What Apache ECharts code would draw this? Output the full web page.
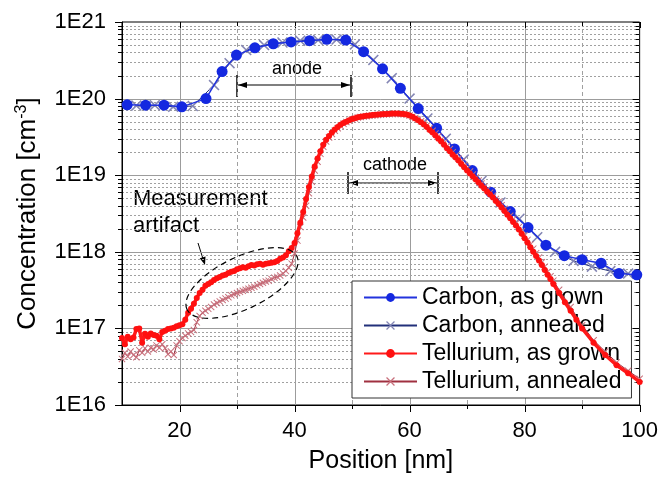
<!DOCTYPE html>
<html>
<head>
<meta charset="utf-8">
<script src="https://cdn.jsdelivr.net/npm/echarts@6/dist/echarts.min.js"></script>
<style>
  html, body { margin: 0; padding: 0; background: #fff; }
  #chart { width: 661px; height: 479px; }
</style>
</head>
<body>
<div id="chart"></div>
<script>
// position [nm], concentration [cm^-3]
const carbonGrown = [
  [10.9, 8.3e19], [14.1, 8.2e19], [17.3, 8.2e19], [20.4, 7.8e19], [24.6, 1.0e20],
  [27.4, 2.25e20], [29.9, 3.7e20], [33.1, 4.6e20], [36.3, 5.2e20], [39.4, 5.5e20],
  [42.6, 5.7e20], [45.6, 5.95e20], [48.9, 5.8e20], [52.0, 4.1e20], [55.3, 2.45e20],
  [58.4, 1.36e20], [61.5, 7.4e19], [64.7, 4.1e19], [67.8, 2.2e19], [70.9, 1.15e19],
  [74.1, 6.0e18], [77.5, 3.35e18], [80.6, 2.07e18], [83.7, 1.22e18], [86.9, 8.9e17],
  [90.0, 7.9e17], [93.3, 7.1e17], [96.4, 5.2e17], [99.5, 5.0e17]
];

const carbonAnnealed = [
  [12.5, 8.1e19], [15.7, 8.2e19], [18.9, 7.8e19], [22.3, 8.0e19], [26.0, 1.5e20],
  [28.7, 2.9e20], [31.6, 4.3e20], [34.7, 5.0e20], [37.9, 5.4e20], [41.0, 5.7e20],
  [44.1, 5.8e20], [47.3, 5.9e20], [50.5, 5.1e20], [53.7, 3.2e20], [56.9, 1.85e20],
  [60.0, 1.0e20], [63.1, 5.5e19], [66.3, 3.0e19], [69.4, 1.6e19], [72.5, 8.4e18],
  [75.8, 4.4e18], [79.1, 2.7e18], [82.2, 1.55e18], [85.3, 1.0e18], [88.5, 7.6e17],
  [91.7, 6.4e17], [94.9, 5.6e17], [98.0, 5.2e17]
];

const telluriumGrown = [
  [10.0, 7.5e16], [10.5, 6.2e16], [11.0, 7.8e16], [11.5, 7.2e16], [12.0, 7.6e16],
  [12.5, 9.8e16], [13.0, 1.0e17], [13.5, 6.5e16], [14.0, 8.5e16], [14.5, 7.8e16],
  [15.0, 8.6e16], [15.5, 8.2e16], [16.0, 8.0e16], [16.5, 7.2e16], [17.0, 9.0e16],
  [17.5, 9.3e16], [18.0, 9.8e16], [18.5, 1.0e17], [19.0, 1.02e17], [19.5, 1.07e17],
  [20.0, 1.1e17], [20.5, 1.13e17], [21.0, 1.3e17], [21.5, 1.6e17], [22.0, 1.8e17],
  [22.5, 2.1e17], [23.0, 2.5e17], [23.5, 2.9e17], [24.0, 3.2e17], [24.5, 3.6e17],
  [25.0, 3.8e17], [25.5, 4.0e17], [26.0, 4.3e17], [26.5, 4.5e17], [27.0, 4.7e17],
  [27.5, 4.9e17], [28.0, 5.0e17], [28.5, 5.3e17], [29.0, 5.5e17], [29.5, 5.6e17],
  [30.0, 5.9e17], [30.5, 6.1e17], [31.0, 6.3e17], [31.5, 6.2e17], [32.0, 6.5e17],
  [32.5, 6.7e17], [33.0, 6.6e17], [33.5, 6.9e17], [34.0, 7.0e17], [34.5, 6.8e17],
  [35.0, 7.0e17], [35.5, 7.1e17], [36.0, 7.2e17], [36.5, 7.3e17], [37.0, 7.6e17],
  [37.5, 8.1e17], [38.0, 8.4e17], [38.5, 9.0e17], [39.0, 1.02e18], [39.5, 1.12e18],
  [40.0, 1.3e18], [40.5, 1.75e18], [41.0, 2.4e18], [41.5, 3.3e18], [42.0, 4.9e18],
  [42.5, 7.0e18], [43.0, 9.6e18], [43.5, 1.3e19], [44.0, 1.65e19], [44.5, 2.05e19],
  [45.0, 2.5e19], [45.5, 2.9e19], [46.0, 3.25e19], [46.5, 3.6e19], [47.0, 3.95e19],
  [47.5, 4.25e19], [48.0, 4.55e19], [48.5, 4.8e19], [49.0, 5.0e19], [49.5, 5.2e19],
  [50.0, 5.4e19], [50.5, 5.55e19], [51.0, 5.7e19], [51.5, 5.8e19], [52.0, 5.9e19],
  [52.5, 5.95e19], [53.0, 6.0e19], [53.5, 6.1e19], [54.0, 6.15e19], [54.5, 6.2e19],
  [55.0, 6.25e19], [55.5, 6.3e19], [56.0, 6.3e19], [56.5, 6.35e19], [57.0, 6.4e19],
  [57.5, 6.4e19], [58.0, 6.4e19], [58.5, 6.35e19], [59.0, 6.3e19], [59.5, 6.2e19],
  [60.0, 6.0e19], [60.5, 5.8e19], [61.0, 5.5e19], [61.5, 5.2e19], [62.0, 4.9e19],
  [62.5, 4.6e19], [63.0, 4.25e19], [63.5, 3.9e19], [64.0, 3.6e19], [64.5, 3.3e19],
  [65.0, 3.0e19], [65.5, 2.75e19], [66.0, 2.5e19], [66.5, 2.25e19], [67.0, 2.05e19],
  [67.5, 1.85e19], [68.0, 1.7e19], [68.5, 1.55e19], [69.0, 1.4e19], [69.5, 1.27e19],
  [70.0, 1.15e19], [70.5, 1.05e19], [71.0, 9.6e18], [71.5, 8.8e18], [72.0, 8.0e18],
  [72.5, 7.3e18], [73.0, 6.7e18], [73.5, 6.1e18], [74.0, 5.6e18], [74.5, 5.1e18],
  [75.0, 4.6e18], [75.5, 4.2e18], [76.0, 3.8e18], [76.5, 3.4e18], [77.0, 3.05e18],
  [77.5, 2.75e18], [78.0, 2.45e18], [78.5, 2.2e18], [79.0, 1.95e18], [79.5, 1.72e18],
  [80.0, 1.5e18], [80.5, 1.32e18], [81.0, 1.15e18], [81.5, 1.0e18], [82.0, 8.8e17],
  [82.5, 7.7e17], [83.0, 6.7e17], [83.5, 5.8e17], [84.0, 5.0e17], [84.5, 4.4e17],
  [85.0, 3.8e17], [86.0, 2.9e17], [87.0, 2.2e17], [88.0, 1.7e17], [89.0, 1.3e17],
  [90.0, 1.0e17], [92.0, 6.5e16], [94.0, 4.5e16], [96.0, 3.3e16], [98.0, 2.6e16],
  [100.0, 2.0e16]
];

const telluriumAnnealed = [
  [10.0, 4.0e16], [10.5, 4.8e16], [11.0, 4.3e16], [11.5, 5.0e16], [12.0, 4.5e16],
  [12.5, 4.2e16], [13.0, 5.2e16], [13.5, 4.8e16], [14.0, 5.5e16], [14.5, 5.0e16],
  [15.0, 5.6e16], [15.5, 5.3e16], [16.0, 6.0e16], [16.5, 5.6e16], [17.0, 6.2e16],
  [17.5, 5.5e16], [18.0, 4.6e16], [18.5, 5.0e16], [19.0, 4.5e16], [19.5, 6.0e16],
  [20.0, 6.8e16], [20.5, 7.5e16], [21.0, 8.0e16], [21.5, 8.6e16], [22.0, 9.0e16],
  [22.5, 9.5e16], [23.0, 1.2e17], [23.5, 1.45e17], [24.0, 1.6e17], [24.5, 1.7e17],
  [25.0, 1.8e17], [25.5, 1.9e17], [26.0, 2.05e17], [26.5, 2.15e17], [27.0, 2.25e17],
  [27.5, 2.35e17], [28.0, 2.45e17], [28.5, 2.55e17], [29.0, 2.7e17], [29.5, 2.8e17],
  [30.0, 2.9e17], [30.5, 3.0e17], [31.0, 3.1e17], [31.5, 3.2e17], [32.0, 3.3e17],
  [32.5, 3.4e17], [33.0, 3.5e17], [33.5, 3.65e17], [34.0, 3.8e17], [34.5, 3.95e17],
  [35.0, 4.1e17], [35.5, 4.2e17], [36.0, 4.4e17], [36.5, 4.6e17], [37.0, 4.7e17],
  [37.5, 4.9e17], [38.0, 5.2e17], [38.5, 5.6e17], [39.0, 6.2e17], [39.5, 7.0e17],
  [40.0, 9.5e17], [40.5, 1.4e18], [41.0, 2.1e18], [41.5, 2.8e18], [42.0, 4.0e18],
  [42.5, 5.8e18], [43.0, 8.2e18], [43.5, 1.15e19], [44.0, 1.5e19], [44.5, 1.9e19],
  [45.0, 2.35e19], [45.5, 2.75e19], [46.0, 3.1e19], [46.5, 3.45e19], [47.0, 3.8e19],
  [47.5, 4.1e19], [48.0, 4.4e19], [48.5, 4.7e19], [49.0, 4.95e19], [49.5, 5.15e19],
  [50.0, 5.35e19], [50.5, 5.5e19], [51.0, 5.65e19], [51.5, 5.75e19], [52.0, 5.85e19],
  [52.5, 5.9e19], [53.0, 5.95e19], [53.5, 6.0e19], [54.0, 6.05e19], [54.5, 6.1e19],
  [55.0, 6.15e19], [55.5, 6.2e19], [56.0, 6.25e19], [56.5, 6.3e19], [57.0, 6.3e19],
  [57.5, 6.3e19], [58.0, 6.3e19], [58.5, 6.3e19], [59.0, 6.25e19], [59.5, 6.15e19],
  [60.0, 6.0e19], [60.5, 5.85e19], [61.0, 5.6e19], [61.5, 5.35e19], [62.0, 5.05e19],
  [62.5, 4.75e19], [63.0, 4.45e19], [63.5, 4.1e19], [64.0, 3.8e19], [64.5, 3.5e19],
  [65.0, 3.2e19], [65.5, 2.9e19], [66.0, 2.65e19], [66.5, 2.4e19], [67.0, 2.2e19],
  [67.5, 2.0e19], [68.0, 1.8e19], [68.5, 1.65e19], [69.0, 1.5e19], [69.5, 1.36e19],
  [70.0, 1.23e19], [70.5, 1.12e19], [71.0, 1.02e19], [71.5, 9.3e18], [72.0, 8.5e18],
  [72.5, 7.8e18], [73.0, 7.1e18], [73.5, 6.5e18], [74.0, 5.9e18], [74.5, 5.4e18],
  [75.0, 4.9e18], [75.5, 4.5e18], [76.0, 4.05e18], [76.5, 3.65e18], [77.0, 3.3e18],
  [77.5, 2.95e18], [78.0, 2.65e18], [78.5, 2.35e18], [79.0, 2.1e18], [79.5, 1.85e18],
  [80.0, 1.63e18], [80.5, 1.43e18], [81.0, 1.25e18], [81.5, 1.1e18], [82.0, 9.6e17],
  [82.5, 8.4e17], [83.0, 7.3e17], [83.5, 6.4e17], [84.0, 5.5e17], [84.5, 4.8e17],
  [85.0, 4.2e17], [86.0, 3.2e17], [88.0, 1.9e17], [90.0, 1.1e17], [92.0, 7.0e16],
  [94.0, 5.0e16], [96.0, 3.6e16], [98.0, 2.8e16], [100.0, 2.2e16]
];

const seriesNames = ['Carbon, as grown', 'Carbon, annealed', 'Tellurium, as grown', 'Tellurium, annealed'];

// grid / tick positions
const xMajorTicks = [20, 40, 60, 80, 100];
const xMinorTicks = [30, 50, 70, 90];
const yDecades = [1e16, 1e17, 1e18, 1e19, 1e20, 1e21];
const yMinorSteps = [2, 3, 4, 5, 6, 7, 8, 9];
const yMinorTicks = yDecades.slice(0, -1).flatMap(d => yMinorSteps.map(m => m * d));

const FONT = '"Liberation Sans", Arial, sans-serif';
const crossPath = 'path://M0,1L1,0L5,4L9,0L10,1L6,5L10,9L9,10L5,6L1,10L0,9L4,5Z';

function renderFrame(params, api) {
  const [x0, yb] = api.coord([10, 1e16]);
  const [x1, yt] = api.coord([100, 1e21]);
  const kids = [];
  const px = v => Math.round(v) + 0.5;
  const seg = (ax, ay, bx, by, style) =>
    kids.push({ type: 'line', shape: { x1: ax, y1: ay, x2: bx, y2: by }, style });
  const solid = { stroke: '#9c9c9c', lineWidth: 1 };
  const dashed = { stroke: '#a0a0a0', lineWidth: 1, lineDash: [4, 3] };
  const dotted = { stroke: '#a0a0a0', lineWidth: 1, lineDash: [2, 2] };
  const ink = { stroke: '#000', lineWidth: 1 };

  xMinorTicks.forEach(v => {
    const x = px(api.coord([v, 1e16])[0]);
    seg(x, yt, x, yb, dashed);
    seg(x, yb, x, yb + 4, ink);
    seg(x, yt, x, yt + 4, ink);
  });
  xMajorTicks.forEach(v => {
    const x = px(api.coord([v, 1e16])[0]);
    if (v < 100) seg(x, yt, x, yb, solid);
    seg(x, yb, x, yb + 7, ink);
    seg(x, yt, x, yt + 6, ink);
  });
  yMinorTicks.forEach(v => {
    const y = px(api.coord([10, v])[1]);
    seg(x0, y, x1, y, dotted);
    seg(x0 - 4, y, x0, y, ink);
    seg(x1 - 4, y, x1, y, ink);
  });
  yDecades.forEach(v => {
    const y = px(api.coord([10, v])[1]);
    if (v > 1e16 && v < 1e21) seg(x0, y, x1, y, solid);
    seg(x0 - 7, y, x0, y, ink);
    seg(x1 - 7, y, x1, y, ink);
  });
  return { type: 'group', children: kids };
}

const chart = echarts.init(document.getElementById('chart'));

chart.setOption({
  animation: false,
  backgroundColor: '#fff',
  textStyle: { fontFamily: FONT },
  grid: {
    left: 122, right: 21, top: 22, bottom: 72,
    show: true, borderColor: '#000', borderWidth: 1
  },
  legend: {
    data: seriesNames,
    orient: 'vertical',
    left: 352, top: 281,
    padding: [5, 10, 5, 11],
    itemWidth: 53, itemHeight: 11,
    itemGap: 5,
    backgroundColor: '#fff',
    borderColor: '#333', borderWidth: 1, borderRadius: 0,
    selectedMode: false,
    textStyle: { fontFamily: FONT, fontSize: 23, color: '#000', lineHeight: 23 }
  },
  xAxis: {
    type: 'value', min: 10, max: 100, interval: 10,
    name: 'Position [nm]', nameLocation: 'middle', nameGap: 44,
    nameTextStyle: { fontFamily: FONT, fontSize: 25, color: '#000' },
    axisLine: { lineStyle: { color: '#000', width: 1 } },
    axisTick: { show: false },
    splitLine: { show: false },
    axisLabel: {
      margin: 15, fontSize: 22, color: '#000', fontFamily: FONT,
      formatter: v => (v % 20 === 0 ? String(v) : '')
    }
  },
  yAxis: {
    type: 'log', logBase: 10, min: 1e16, max: 1e21,
    name: '{a|Concentration [cm}{s|-3}{a|]}',
    nameLocation: 'middle', nameGap: 80,
    nameTextStyle: {
      rich: {
        a: { fontFamily: FONT, fontSize: 26, color: '#000' },
        s: { fontFamily: FONT, fontSize: 16, color: '#000', verticalAlign: 'top', padding: [0, 0, 12, 0] }
      }
    },
    axisLine: { lineStyle: { color: '#000', width: 1 } },
    axisTick: { show: false },
    minorTick: { show: false },
    splitLine: { show: false },
    axisLabel: {
      margin: 16, fontSize: 22, color: '#000', fontFamily: FONT,
      formatter: v => '1E' + Math.round(Math.log10(v))
    }
  },
  graphic: [
    { type: 'text', style: { text: 'anode', x: 297, y: 69, font: '18px ' + FONT, fill: '#000', textAlign: 'center', textVerticalAlign: 'middle' } },
    { type: 'line', shape: { x1: 238, y1: 85, x2: 350, y2: 85 }, style: { stroke: '#000', lineWidth: 1.2 } },
    { type: 'line', shape: { x1: 237, y1: 75, x2: 237, y2: 97 }, style: { stroke: '#000', lineWidth: 1.5 } },
    { type: 'line', shape: { x1: 351, y1: 75, x2: 351, y2: 97 }, style: { stroke: '#000', lineWidth: 1.5 } },
    { type: 'polygon', shape: { points: [[238, 85], [247, 82], [247, 88]] }, style: { fill: '#000' } },
    { type: 'polygon', shape: { points: [[350, 85], [341, 82], [341, 88]] }, style: { fill: '#000' } },

    { type: 'text', style: { text: 'cathode', x: 395, y: 165, font: '18px ' + FONT, fill: '#000', textAlign: 'center', textVerticalAlign: 'middle' } },
    { type: 'line', shape: { x1: 349, y1: 183, x2: 437, y2: 183 }, style: { stroke: '#000', lineWidth: 1.2 } },
    { type: 'line', shape: { x1: 348, y1: 172, x2: 348, y2: 194 }, style: { stroke: '#000', lineWidth: 1.5 } },
    { type: 'line', shape: { x1: 438, y1: 172, x2: 438, y2: 194 }, style: { stroke: '#000', lineWidth: 1.5 } },
    { type: 'polygon', shape: { points: [[349, 183], [358, 180], [358, 186]] }, style: { fill: '#000' } },
    { type: 'polygon', shape: { points: [[437, 183], [428, 180], [428, 186]] }, style: { fill: '#000' } },

    { type: 'text', style: { text: 'Measurement', x: 133, y: 199, font: '22px ' + FONT, fill: '#000', textAlign: 'left', textVerticalAlign: 'middle' } },
    { type: 'text', style: { text: 'artifact', x: 133, y: 226, font: '22px ' + FONT, fill: '#000', textAlign: 'left', textVerticalAlign: 'middle' } },
    { type: 'line', shape: { x1: 198, y1: 243, x2: 204, y2: 262 }, style: { stroke: '#000', lineWidth: 1 } },
    { type: 'polygon', shape: { points: [[205, 265], [205.5, 256.5], [199.7, 258.3]] }, style: { fill: '#000' } },
    {
      type: 'ellipse', x: 242, y: 283, rotation: 0.45,
      shape: { cx: 0, cy: 0, rx: 61, ry: 26 },
      style: { fill: 'none', stroke: '#000', lineWidth: 1.2, lineDash: [6, 4] },
      z: 10
    }
  ],
  series: [
    {
      type: 'custom', name: 'frame', coordinateSystem: 'cartesian2d',
      data: [[10, 1e16]], renderItem: renderFrame, silent: true, z: 0, clip: false
    },
    {
      name: seriesNames[0], type: 'line', data: carbonGrown, z: 3,
      symbol: 'circle', symbolSize: 11, showAllSymbol: true,
      lineStyle: { color: '#2233dd', width: 1.5 },
      itemStyle: { color: '#1428e0' }
    },
    {
      name: seriesNames[1], type: 'line', data: carbonAnnealed, z: 2,
      symbol: crossPath, symbolSize: 11, showAllSymbol: true,
      lineStyle: { color: '#22307a', width: 1 },
      itemStyle: { color: '#8486b4' }
    },
    {
      name: seriesNames[2], type: 'line', data: telluriumGrown, z: 5,
      symbol: 'circle', symbolSize: 6, showAllSymbol: true,
      lineStyle: { color: '#ff1a1a', width: 3.5 },
      itemStyle: { color: '#ff1010' }
    },
    {
      name: seriesNames[3], type: 'line', data: telluriumAnnealed, z: 4,
      symbol: crossPath, symbolSize: 7, showAllSymbol: true,
      lineStyle: { color: '#a03040', width: 1 },
      itemStyle: { color: '#c8707c' }
    }
  ]
});
</script>
</body>
</html>
